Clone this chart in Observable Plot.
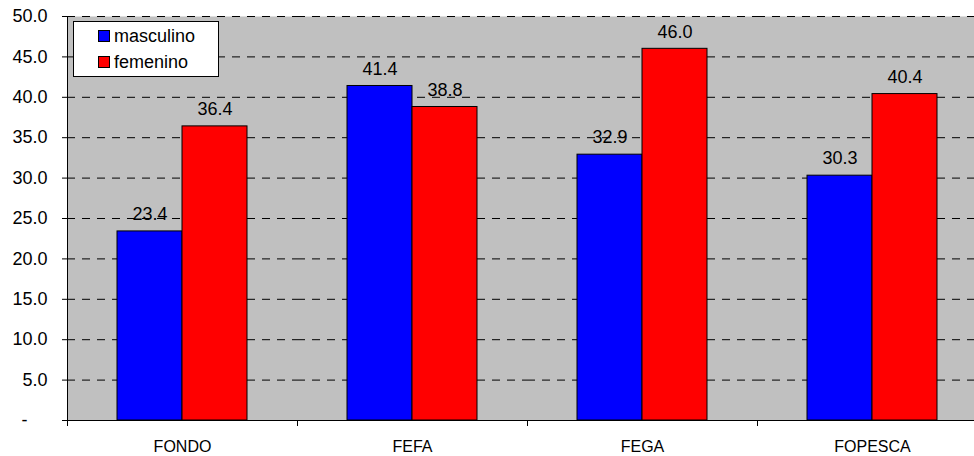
<!DOCTYPE html>
<html>
<head>
<meta charset="utf-8">
<script src="https://cdn.jsdelivr.net/npm/d3@7"></script>
<script src="https://cdn.jsdelivr.net/npm/@observablehq/plot@0.6"></script>
<style>
  html, body { margin: 0; padding: 0; background: #fff; overflow: hidden; }
  #wrap { position: relative; width: 974px; height: 456px; overflow: hidden; }
  #wrap svg { overflow: hidden; max-width: none; }
  .legend { position: absolute; left: 73px; top: 21px; width: 146px; height: 56px;
    background: #fff; border: 1px solid #000; box-sizing: border-box;
    font-family: "Liberation Sans", Arial, sans-serif; font-size: 18px; color: #000; }
  .legend .item { position: absolute; left: 24px; display: flex; align-items: center; line-height: 20px; }
  .legend .sw { width: 12px; height: 12px; border: 1px solid #000; margin-right: 4px; box-sizing: border-box; }
</style>
</head>
<body>
<div id="wrap"></div>
<script>
const categories = ["FONDO", "FEFA", "FEGA", "FOPESCA"];
const seriesNames = ["masculino", "femenino"];
const masculino = [23.4, 41.4, 32.9, 30.3];
const femenino = [36.4, 38.8, 46.0, 40.4];
const seriesColors = ["#0000ff", "#ff0000"];
const yTicks = [0, 5, 10, 15, 20, 25, 30, 35, 40, 45, 50];

const data = [];
categories.forEach((c, i) => {
  data.push({cat: c, series: seriesNames[0], value: masculino[i]});
  data.push({cat: c, series: seriesNames[1], value: femenino[i]});
});

const font = "Liberation Sans, Arial, sans-serif";

const chart = Plot.plot({
  width: 974,
  height: 456,
  marginLeft: 67,
  marginRight: -13,
  marginTop: 16,
  marginBottom: 36,
  style: {fontFamily: font, fontSize: "17px", color: "#000", background: "#fff"},
  fx: {domain: categories, padding: 0, label: null},
  x: {domain: seriesNames, paddingInner: 0, paddingOuter: 0.756, axis: null},
  y: {domain: [0, 50], label: null, axis: null},
  color: {domain: seriesNames, range: seriesColors},
  marks: [
    Plot.frame({fill: "#c0c0c0", stroke: null, facet: "super"}),
    Plot.ruleY(yTicks.filter(d => d > 0), {stroke: "#000", strokeWidth: 1, strokeDasharray: "8,7"}),
    Plot.barY(data, {fx: "cat", x: "series", y: "value", fill: "series", stroke: "#000", strokeWidth: 1}),
    Plot.text(data, {fx: "cat", x: "series", y: "value", text: d => d.value.toFixed(1), dy: -17, fontSize: 18, fill: "#000"}),
    Plot.ruleY([0], {stroke: "#000", strokeWidth: 1}),
    Plot.frame({anchor: "left", stroke: "#000", facet: "super"}),
    Plot.axisY({ticks: yTicks, tickSize: 5, tickPadding: 15, fontSize: 18, stroke: "#000",
      tickFormat: d => d === 0 ? "-\u2007\u2007" : d.toFixed(1), label: null}),
    Plot.axisFx({anchor: "bottom", tickSize: 0, tickPadding: 20, fontSize: 16, label: null}),
    Plot.axisFx({anchor: "bottom", tickSize: 6, tickFormat: () => "", dx: -115, label: null, stroke: "#000"})
  ]
});
const wrap = document.getElementById("wrap");
wrap.appendChild(chart);

const legend = document.createElement("div");
legend.className = "legend";
seriesNames.forEach((name, i) => {
  const item = document.createElement("div");
  item.className = "item";
  item.style.top = (i === 0 ? 4 : 30) + "px";
  const sw = document.createElement("span");
  sw.className = "sw";
  sw.style.background = seriesColors[i];
  const t = document.createElement("span");
  t.textContent = name;
  item.appendChild(sw);
  item.appendChild(t);
  legend.appendChild(item);
});
wrap.appendChild(legend);
</script>
</body>
</html>
